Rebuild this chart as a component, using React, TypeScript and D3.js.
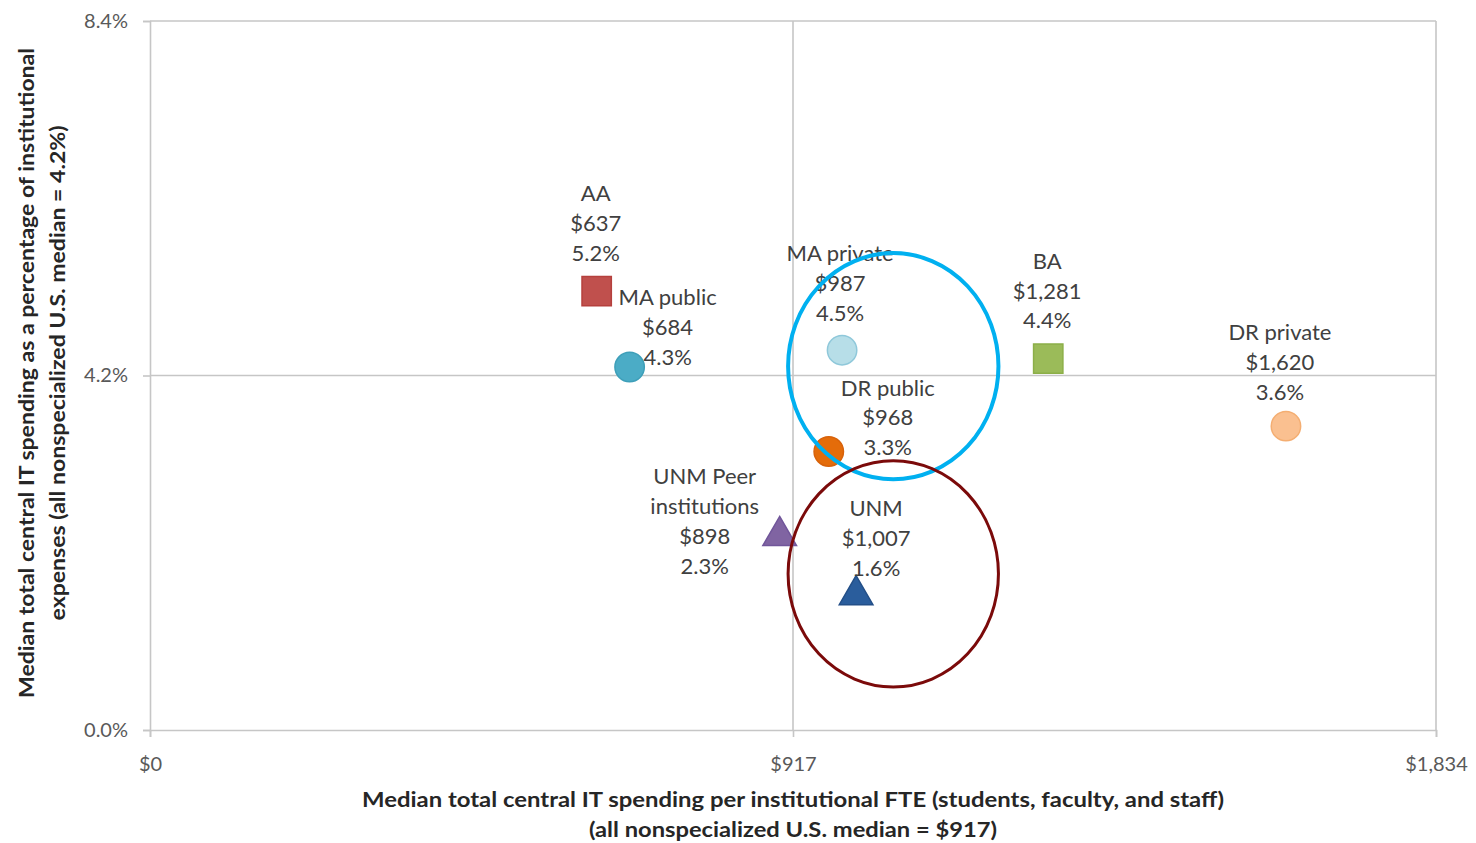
import React, { useEffect, useRef } from "react";
import * as d3 from "d3";

// spending per FTE ($) and IT share of institutional expenses (%)
const groups = ["AA", "MA public", "MA private", "BA", "DR private", "DR public", "UNM Peer institutions", "UNM"];
const nameLines = [["AA"], ["MA public"], ["MA private"], ["BA"], ["DR private"], ["DR public"], ["UNM Peer", "institutions"], ["UNM"]];
const spending = [637, 684, 987, 1281, 1620, 968, 898, 1007];
const itShare = [5.2, 4.3, 4.5, 4.4, 3.6, 3.3, 2.3, 1.6];
const spendLabels = ["$637", "$684", "$987", "$1,281", "$1,620", "$968", "$898", "$1,007"];
const shareLabels = ["5.2%", "4.3%", "4.5%", "4.4%", "3.6%", "3.3%", "2.3%", "1.6%"];

const xTicks = [0, 917, 1834];
const xTickLabels = ["$0", "$917", "$1,834"];
const yTicks = [0, 4.2, 8.4];
const yTickLabels = ["0.0%", "4.2%", "8.4%"];

// highlight ellipses, in data units: [cx ($), cy (%), rx ($), ry (%)]
const highlightBlue = [1060, 4.31, 150, 1.34];
const highlightRed = [1060, 1.85, 150, 1.34];

// marker styling per group
const shapes = ["square", "circle", "circle", "square", "circle", "circle", "triangle", "triangle"];
const fills = ["#c0504d", "#4bacc6", "#b7dee8", "#9bbb59", "#fac090", "#e46c0a", "#8064a2", "#2a5d9c"];
const strokes = ["#b5403d", "#3e9fb9", "#8fc8da", "#8caf48", "#f4ae72", "#d8620a", "#71569a", "#234f88"];

// label placement relative to the marker: [dx, dy of last line]
const labelOffsets: [number, number][] = [
  [-1, -38], [38, -10], [-2, -37], [-1, -38], [-6, -34], [59, -4], [-75, 30], [20, -27],
];

const W = 1476;
const H = 843;
const margin = { top: 21, right: 40, bottom: 113, left: 150 };
const FONT = "Lato, 'Open Sans', sans-serif";

const App: React.FC = () => {
  const svgRef = useRef<SVGSVGElement>(null);

  useEffect(() => {
    if (!svgRef.current) return;
    const svg = d3.select(svgRef.current);
    svg.selectAll("*").remove();

    const x = d3.scaleLinear().domain([0, 1834]).range([margin.left, W - margin.right]);
    const y = d3.scaleLinear().domain([0, 8.4]).range([H - margin.bottom, margin.top]);

    const grid = "#c6c6c6";

    // gridlines (vertical + horizontal)
    svg.append("g")
      .selectAll("line")
      .data(xTicks.slice(1))
      .join("line")
      .attr("x1", (d) => x(d)).attr("x2", (d) => x(d))
      .attr("y1", y(0)).attr("y2", y(8.4))
      .attr("stroke", grid).attr("stroke-width", 1.6);
    svg.append("g")
      .selectAll("line")
      .data(yTicks.slice(1))
      .join("line")
      .attr("x1", x(0)).attr("x2", x(1834))
      .attr("y1", (d) => y(d)).attr("y2", (d) => y(d))
      .attr("stroke", grid).attr("stroke-width", 1.6);

    // axes
    const xAxis = d3.axisBottom(x).tickValues(xTicks).tickSize(7).tickFormat((_, i) => xTickLabels[i]);
    const yAxis = d3.axisLeft(y).tickValues(yTicks).tickSize(7).tickFormat((_, i) => yTickLabels[i]);

    const gx = svg.append("g").attr("transform", `translate(0,${y(0)})`).call(xAxis);
    const gy = svg.append("g").attr("transform", `translate(${x(0)},0)`).call(yAxis);
    [gx, gy].forEach((g) => {
      g.select(".domain").attr("stroke", grid).attr("stroke-width", 1.6);
      g.selectAll(".tick line").attr("stroke", grid).attr("stroke-width", 1.6);
      g.selectAll(".tick text")
        .attr("fill", "#595959")
        .style("font-family", FONT)
        .style("font-size", "20px");
    });
    gx.selectAll(".tick text").attr("y", 27);
    gy.selectAll(".tick text").attr("x", -22);

    // highlight ellipses
    const ellipse = (e: number[], color: string, w: number) =>
      svg.append("ellipse")
        .attr("cx", x(e[0])).attr("cy", y(e[1]))
        .attr("rx", x(e[2]) - x(0)).attr("ry", y(0) - y(e[3]))
        .attr("fill", "none").attr("stroke", color).attr("stroke-width", w);

    // markers
    const symbolType: Record<string, d3.SymbolType> = {
      square: d3.symbolSquare,
      circle: d3.symbolCircle,
      triangle: d3.symbolTriangle,
    };
    const symbolSize: Record<string, number> = { square: 860, circle: 680, triangle: 490 };

    svg.append("g")
      .selectAll("path")
      .data(groups)
      .join("path")
      .attr("transform", (_, i) => `translate(${x(spending[i])},${y(itShare[i])})`)
      .attr("d", (_, i) => d3.symbol().type(symbolType[shapes[i]]).size(symbolSize[shapes[i]])()!)
      .attr("fill", (_, i) => fills[i])
      .attr("stroke", (_, i) => strokes[i])
      .attr("stroke-width", 1.5);

    // data labels
    const labels = svg.append("g")
      .style("font-family", FONT)
      .style("font-size", "22px")
      .attr("fill", "#404040")
      .attr("text-anchor", "middle");
    groups.forEach((_, i) => {
      const lines = [...nameLines[i], spendLabels[i], shareLabels[i]];
      const cx = x(spending[i]) + labelOffsets[i][0];
      const lastY = y(itShare[i]) + labelOffsets[i][1];
      lines.forEach((t, k) => {
        labels.append("text")
          .attr("x", cx)
          .attr("y", lastY - (lines.length - 1 - k) * 29.7)
          .attr("dy", "0.35em")
          .text(t);
      });
    });

    ellipse(highlightBlue, "#00b0f0", 4);
    ellipse(highlightRed, "#7b0a0a", 3);

    // axis titles
    const titles = svg.append("g")
      .style("font-family", FONT)
      .style("font-size", "21px")
      .style("font-weight", "bold")
      .attr("fill", "#262626")
      .attr("text-anchor", "middle")
      .attr("lengthAdjust", "spacingAndGlyphs");
    const midX = (x(0) + x(1834)) / 2;
    titles.append("text").attr("x", midX).attr("y", 807)
      .attr("textLength", 862).attr("lengthAdjust", "spacingAndGlyphs")
      .text("Median total central IT spending per institutional FTE (students, faculty, and staff)");
    titles.append("text").attr("x", midX).attr("y", 837)
      .attr("textLength", 408).attr("lengthAdjust", "spacingAndGlyphs")
      .text("(all nonspecialized U.S. median = $917)");
    const midY = 373;
    titles.append("text").attr("transform", `translate(34,${midY}) rotate(-90)`)
      .attr("textLength", 650).attr("lengthAdjust", "spacingAndGlyphs")
      .text("Median total central IT spending as a percentage of institutional");
    titles.append("text").attr("transform", `translate(65,${midY}) rotate(-90)`)
      .attr("textLength", 495).attr("lengthAdjust", "spacingAndGlyphs")
      .text("expenses (all nonspecialized U.S. median = 4.2%)");
  }, []);

  return (
    <svg
      ref={svgRef}
      width={W}
      height={H}
      style={{ position: "absolute", left: 0, top: 0, background: "#fff" }}
    />
  );
};

export default App;
